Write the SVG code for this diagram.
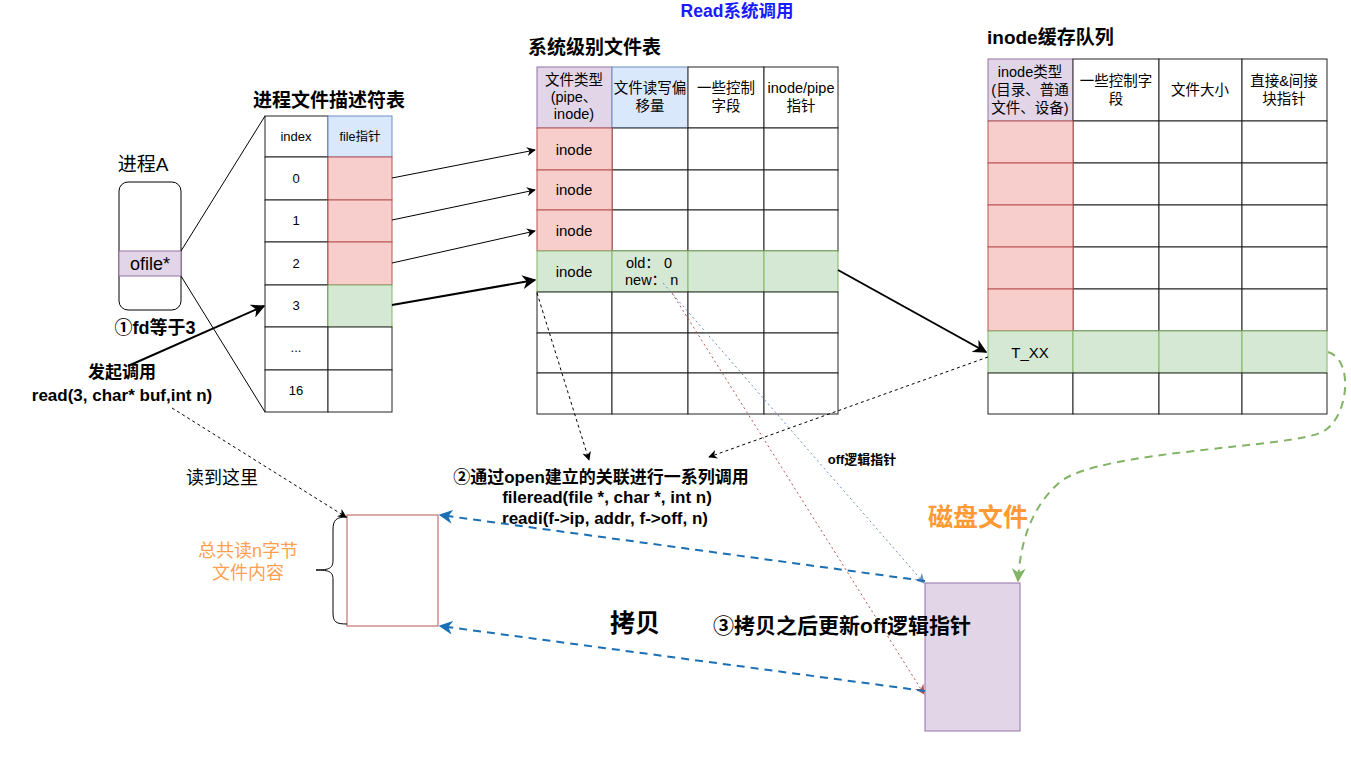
<svg xmlns="http://www.w3.org/2000/svg" width="1351" height="759" viewBox="0 0 1351 759">
<defs>
<style>
text{font-family:"Liberation Sans","Noto Sans CJK SC",sans-serif;fill:#000;}
.c{text-anchor:middle;}
.b{font-weight:bold;}
.cell{fill:#fff;stroke:#222;stroke-width:1;}
.red{fill:#f8cecc;stroke:#b85450;stroke-width:1;}
.green{fill:#d5e8d4;stroke:#82b366;stroke-width:1;}
.blue{fill:#dae8fc;stroke:#6c8ebf;stroke-width:1;}
.purple{fill:#e1d5e7;stroke:#9673a6;stroke-width:1;}
.t12{font-size:13px;}
.t13{font-size:14.5px;}
.t14{font-size:15px;}
.ttl{font-size:19px;font-weight:bold;}
.lb{font-size:17px;font-weight:bold;}
.ln{fill:none;stroke:#000;stroke-width:1;}
.thick{fill:none;stroke:#000;stroke-width:2;}
.dash{fill:none;stroke:#000;stroke-width:1;stroke-dasharray:3 3;}
.bdash{fill:none;stroke:#1a6fb5;stroke-width:2;stroke-dasharray:8 6;}
</style>
<marker id="ab" viewBox="0 0 10 10" refX="9" refY="5" markerWidth="9" markerHeight="9" orient="auto" markerUnits="userSpaceOnUse"><path d="M0,0 L10,5 L0,10 L3,5 z" fill="#000"/></marker>
<marker id="abt" viewBox="0 0 10 10" refX="9" refY="5" markerWidth="14" markerHeight="14" orient="auto" markerUnits="userSpaceOnUse"><path d="M0,0 L10,5 L0,10 L3,5 z" fill="#000"/></marker>
<marker id="abl" viewBox="0 0 10 10" refX="9" refY="5" markerWidth="14" markerHeight="14" orient="auto" markerUnits="userSpaceOnUse"><path d="M0,0 L10,5 L0,10 L3,5 z" fill="#1a6fb5"/></marker>
<marker id="alb" viewBox="0 0 10 10" refX="9" refY="5" markerWidth="10" markerHeight="10" orient="auto" markerUnits="userSpaceOnUse"><path d="M0,0 L10,5 L0,10 L3,5 z" fill="#6c8ebf"/></marker>
<marker id="ar" viewBox="0 0 10 10" refX="9" refY="5" markerWidth="10" markerHeight="10" orient="auto" markerUnits="userSpaceOnUse"><path d="M0,0 L10,5 L0,10 L3,5 z" fill="#b85450"/></marker>
<marker id="ag" viewBox="0 0 10 10" refX="9" refY="5" markerWidth="14" markerHeight="14" orient="auto" markerUnits="userSpaceOnUse"><path d="M0,0 L10,5 L0,10 L3,5 z" fill="#82b366"/></marker>
</defs>
<rect width="1351" height="759" fill="#fff"/>

<text x="737" y="17" class="c b" style="font-size:17.5px;fill:#1a1aff">Read系统调用</text>

<g id="processA">
<text x="143" y="171" class="c" style="font-size:19px">进程A</text>
<rect x="119" y="182" width="62" height="128" rx="9" fill="#fff" stroke="#000"/>
<rect x="119" y="251" width="62" height="25" class="purple"/>
<text x="150" y="270" class="c" style="font-size:18px">ofile*</text>
</g>

<g id="fdtable">
<text x="329" y="107" class="c ttl">进程文件描述符表</text>
<rect x="265" y="116" width="63" height="41" class="cell"/>
<rect x="328" y="116" width="64" height="41" class="blue"/>
<text x="296" y="141" class="c t12">index</text>
<text x="360" y="141" class="c" style="font-size:12.5px">file指针</text>
<rect x="265" y="157" width="63" height="43" class="cell"/><rect x="328" y="157" width="64" height="43" class="red"/>
<rect x="265" y="200" width="63" height="42" class="cell"/><rect x="328" y="200" width="64" height="42" class="red"/>
<rect x="265" y="242" width="63" height="43" class="cell"/><rect x="328" y="242" width="64" height="43" class="red"/>
<rect x="265" y="285" width="63" height="42" class="cell"/><rect x="328" y="285" width="64" height="42" class="green"/>
<rect x="265" y="327" width="63" height="43" class="cell"/><rect x="328" y="327" width="64" height="43" class="cell"/>
<rect x="265" y="370" width="63" height="42" class="cell"/><rect x="328" y="370" width="64" height="42" class="cell"/>
<text x="296" y="183" class="c t12">0</text>
<text x="296" y="225" class="c t12">1</text>
<text x="296" y="268" class="c t12">2</text>
<text x="296" y="310" class="c t12">3</text>
<text x="296" y="352" class="c t12">...</text>
<text x="296" y="395" class="c t12">16</text>
</g>

<g id="systable">
<text x="528" y="54" class="ttl">系统级别文件表</text>
<rect x="537" y="67" width="75" height="61" class="purple"/>
<rect x="612" y="67" width="76" height="61" class="blue"/>
<rect x="688" y="67" width="76" height="61" class="cell"/>
<rect x="764" y="67" width="74" height="61" class="cell"/>
<text class="c t13"><tspan x="574" y="85">文件类型</tspan><tspan x="574" y="102">(pipe、</tspan><tspan x="574" y="119">inode)</tspan></text>
<text class="c t13"><tspan x="650" y="93">文件读写偏</tspan><tspan x="650" y="111">移量</tspan></text>
<text class="c t13"><tspan x="726" y="93">一些控制</tspan><tspan x="726" y="111">字段</tspan></text>
<text class="c t13"><tspan x="801" y="93">inode/pipe</tspan><tspan x="801" y="111">指针</tspan></text>

<rect x="612" y="128" width="76" height="42" class="cell"/><rect x="688" y="128" width="76" height="42" class="cell"/><rect x="764" y="128" width="74" height="42" class="cell"/>
<rect x="612" y="170" width="76" height="40" class="cell"/><rect x="688" y="170" width="76" height="40" class="cell"/><rect x="764" y="170" width="74" height="40" class="cell"/>
<rect x="612" y="210" width="76" height="41" class="cell"/><rect x="688" y="210" width="76" height="41" class="cell"/><rect x="764" y="210" width="74" height="41" class="cell"/>
<rect x="537" y="128" width="75" height="42" class="red"/>
<rect x="537" y="170" width="75" height="40" class="red"/>
<rect x="537" y="210" width="75" height="41" class="red"/>
<rect x="537" y="251" width="75" height="41" class="green"/>
<rect x="612" y="251" width="76" height="41" class="green"/>
<rect x="688" y="251" width="76" height="41" class="green"/>
<rect x="764" y="251" width="74" height="41" class="green"/>
<rect x="537" y="292" width="75" height="41" class="cell"/><rect x="612" y="292" width="76" height="41" class="cell"/><rect x="688" y="292" width="76" height="41" class="cell"/><rect x="764" y="292" width="74" height="41" class="cell"/>
<rect x="537" y="333" width="75" height="40" class="cell"/><rect x="612" y="333" width="76" height="40" class="cell"/><rect x="688" y="333" width="76" height="40" class="cell"/><rect x="764" y="333" width="74" height="40" class="cell"/>
<rect x="537" y="373" width="75" height="41" class="cell"/><rect x="612" y="373" width="76" height="41" class="cell"/><rect x="688" y="373" width="76" height="41" class="cell"/><rect x="764" y="373" width="74" height="41" class="cell"/>
<text x="574" y="155" class="c t14">inode</text>
<text x="574" y="195" class="c t14">inode</text>
<text x="574" y="236" class="c t14">inode</text>
<text x="574" y="277" class="c t14">inode</text>
<text class="t13"><tspan x="626" y="268">old：  0</tspan><tspan x="625" y="285">new：  n</tspan></text>
</g>

<g id="inodetable">
<text x="987" y="44" class="ttl">inode缓存队列</text>
<rect x="988" y="59" width="85" height="62" class="purple"/>
<rect x="1073" y="59" width="86" height="62" class="cell"/>
<rect x="1159" y="59" width="83" height="62" class="cell"/>
<rect x="1242" y="59" width="85" height="62" class="cell"/>
<text class="c t13"><tspan x="1030" y="77">inode类型</tspan><tspan x="1030" y="95">(目录、普通</tspan><tspan x="1030" y="113">文件、设备)</tspan></text>
<text class="c t13"><tspan x="1116" y="86">一些控制字</tspan><tspan x="1116" y="104">段</tspan></text>
<text x="1200" y="95" class="c t13">文件大小</text>
<text class="c t13"><tspan x="1284" y="86">直接&amp;间接</tspan><tspan x="1284" y="104">块指针</tspan></text>
<g>
<rect x="1073" y="121" width="86" height="42" class="cell"/><rect x="1159" y="121" width="83" height="42" class="cell"/><rect x="1242" y="121" width="85" height="42" class="cell"/>
<rect x="1073" y="163" width="86" height="42" class="cell"/><rect x="1159" y="163" width="83" height="42" class="cell"/><rect x="1242" y="163" width="85" height="42" class="cell"/>
<rect x="1073" y="205" width="86" height="42" class="cell"/><rect x="1159" y="205" width="83" height="42" class="cell"/><rect x="1242" y="205" width="85" height="42" class="cell"/>
<rect x="1073" y="247" width="86" height="42" class="cell"/><rect x="1159" y="247" width="83" height="42" class="cell"/><rect x="1242" y="247" width="85" height="42" class="cell"/>
<rect x="1073" y="289" width="86" height="42" class="cell"/><rect x="1159" y="289" width="83" height="42" class="cell"/><rect x="1242" y="289" width="85" height="42" class="cell"/>
<rect x="988" y="121" width="85" height="42" class="red"/>
<rect x="988" y="163" width="85" height="42" class="red"/>
<rect x="988" y="205" width="85" height="42" class="red"/>
<rect x="988" y="247" width="85" height="42" class="red"/>
<rect x="988" y="289" width="85" height="42" class="red"/>
<rect x="988" y="331" width="85" height="42" class="green"/>
<rect x="1073" y="331" width="86" height="42" class="green"/>
<rect x="1159" y="331" width="83" height="42" class="green"/>
<rect x="1242" y="331" width="85" height="42" class="green"/>
<rect x="988" y="373" width="85" height="41" class="cell"/><rect x="1073" y="373" width="86" height="41" class="cell"/><rect x="1159" y="373" width="83" height="41" class="cell"/><rect x="1242" y="373" width="85" height="41" class="cell"/>
</g>
<text x="1030" y="358" class="c t14">T_XX</text>
</g>

<g id="buffer">
<rect x="347" y="515" width="91" height="111" fill="#fff" stroke="#b85450"/>
<path d="M347,517 C336,517 333,520 333,530 L333,560 C333,568 330,570 316,570 C330,570 333,572 333,580 L333,613 C333,622 336,624 347,624" fill="none" stroke="#000"/>
<text class="c" style="font-size:18px;fill:#ff9f4f"><tspan x="248" y="557">总共读n字节</tspan><tspan x="248" y="579">文件内容</tspan></text>
</g>

<g id="disk">
<rect x="925" y="583" width="95" height="148" class="purple"/>
<text x="978" y="526" class="c b" style="font-size:25px;fill:#ff9933">磁盘文件</text>
</g>

<g id="labels">
<text x="155" y="334" class="c" style="font-size:18px;font-weight:bold">①fd等于3</text>
<text x="122" y="378" class="c lb">发起调用</text>
<text x="122" y="401" class="c lb">read(3, char* buf,int n)</text>
<text x="222" y="484" class="c" style="font-size:18px">读到这里</text>
<text x="601" y="483" class="c lb">②通过open建立的关联进行一系列调用</text>
<text x="607" y="503" class="c lb">fileread(file *, char *, int n)</text>
<text x="605" y="524" class="c lb">readi(f-&gt;ip, addr, f-&gt;off, n)</text>
<text x="862" y="464" class="c b" style="font-size:13px">off逻辑指针</text>
<text x="635" y="632" class="c b" style="font-size:25px">拷贝</text>
<text x="842" y="633" class="c b" style="font-size:21px">③拷贝之后更新off逻辑指针</text>
</g>

<g id="connectors">
<line x1="181" y1="251" x2="265" y2="116" class="ln"/>
<line x1="181" y1="276" x2="265" y2="412" class="ln"/>
<line x1="392" y1="178" x2="535" y2="150" class="ln" marker-end="url(#ab)"/>
<line x1="392" y1="220" x2="535" y2="190" class="ln" marker-end="url(#ab)"/>
<line x1="392" y1="263" x2="535" y2="231" class="ln" marker-end="url(#ab)"/>
<line x1="392" y1="305" x2="535" y2="280" class="thick" marker-end="url(#abt)"/>
<line x1="128" y1="366" x2="264" y2="306" class="thick" marker-end="url(#abt)"/>
<line x1="838" y1="270" x2="986" y2="352" class="thick" marker-end="url(#abt)"/>
<line x1="537" y1="293" x2="589" y2="460" class="dash" marker-end="url(#ab)"/>
<line x1="988" y1="357" x2="709" y2="457" class="dash" marker-end="url(#ab)"/>
<line x1="172" y1="408" x2="346" y2="517" class="dash" marker-end="url(#ab)"/>
<line x1="663" y1="283" x2="924" y2="583" fill="none" stroke="#6c8ebf" stroke-width="1" stroke-dasharray="2 3" marker-end="url(#alb)"/>
<line x1="672" y1="293" x2="924" y2="694" fill="none" stroke="#b85450" stroke-width="1" stroke-dasharray="2 3" marker-end="url(#ar)"/>
<line x1="925" y1="581" x2="440" y2="515" class="bdash" marker-end="url(#abl)"/>
<line x1="925" y1="691" x2="440" y2="626" class="bdash" marker-end="url(#abl)"/>
<path d="M1328,352 C1355,360 1348,420 1322,432 C1290,448 1100,450 1060,482 C1030,508 1020,545 1018,581" fill="none" stroke="#82b366" stroke-width="2" stroke-dasharray="8 6" marker-end="url(#ag)"/>
</g>
</svg>
